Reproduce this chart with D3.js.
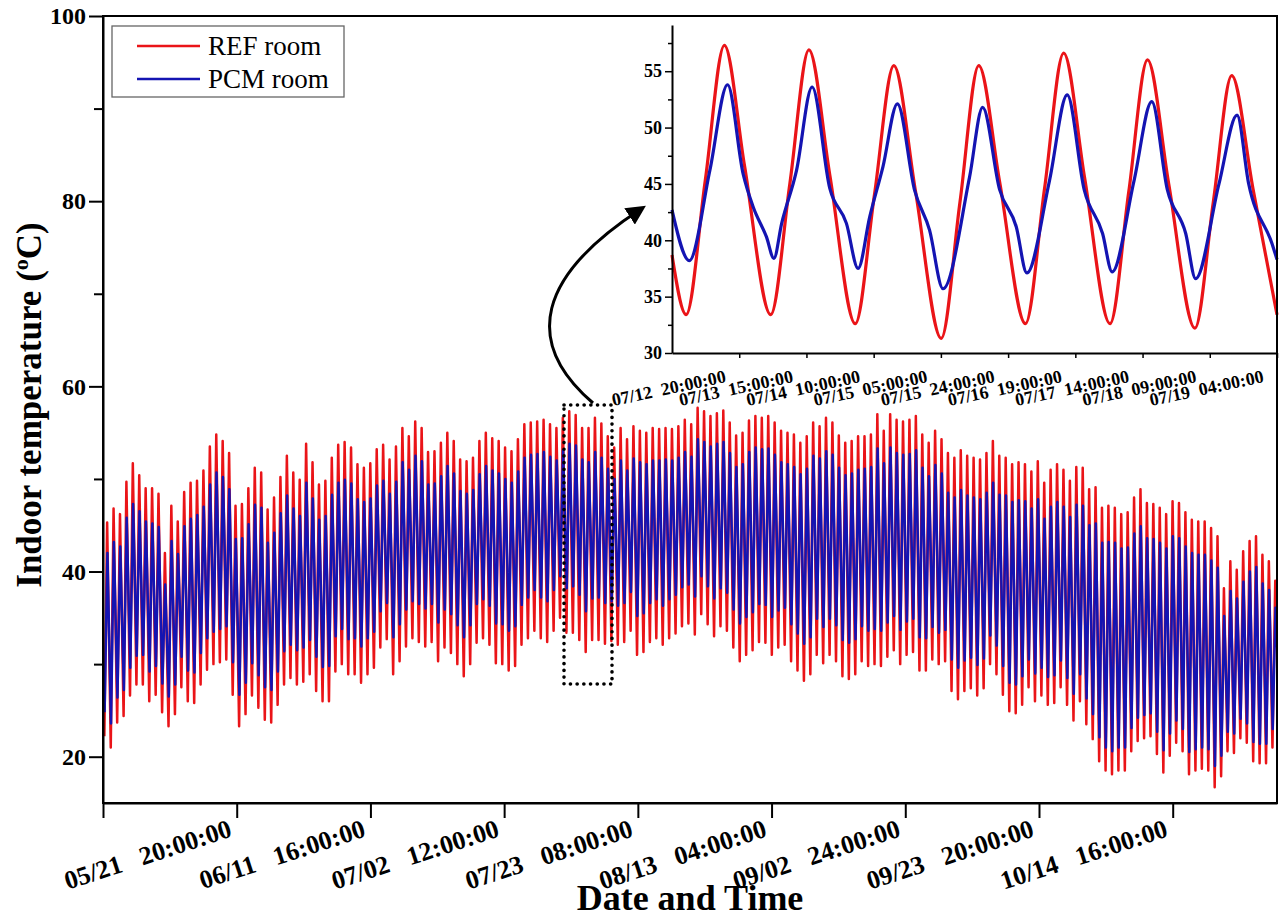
<!DOCTYPE html>
<html>
<head>
<meta charset="utf-8">
<script src="https://cdn.jsdelivr.net/npm/d3@7"></script>
<style>
body { margin: 0; background: #fff; }
text { font-family: "Liberation Serif", "Times New Roman", serif; }
</style>
</head>
<body>
<svg id="chart" width="1282" height="922"></svg>
<script>
// daily extremes, day 0 = 05/01, deg C
const refMax = [45.3,46.8,46.2,49.7,51.7,50.4,49.0,49.0,48.4,42.0,
 47.1,45.4,48.6,49.6,49.8,50.9,53.5,54.8,54.1,52.8,
 47.1,47.3,49.0,51.2,50.7,46.7,48.0,50.2,52.5,50.7,
 49.9,53.8,51.8,49.4,49.8,52.3,53.7,54.0,53.4,51.6,
 51.2,51.7,53.2,53.7,52.1,53.5,
 55.5,54.6,56.2,55.5,52.9,53.0,53.9,55.0,54.1,52.1,
 51.9,52.3,54.1,55.0,54.4,54.1,53.4,53.0,54.3,55.9,
 56.1,56.2,56.4,55.9,55.5,56.6,57.3,56.9,55.5,55.5,
 56.6,56.0,54.6,53.4,55.5,54.3,55.7,55.2,55.0,55.5,
 55.4,55.5,55.4,55.7,56.4,55.9,
 57.7,57.3,56.8,57.1,57.4,56.1,54.7,55.0,56.3,56.8,
 56.6,56.8,56.1,55.2,55.0,54.8,53.9,54.6,56.1,55.7,
 56.6,56.1,54.7,53.9,54.1,54.6,54.6,54.8,57.0,55.2,
 57.0,56.4,56.2,56.4,56.8,54.8,53.9,55.2,54.3,52.8,
 52.3,53.1,52.5,52.3,52.1,52.8,
 54.1,52.5,52.3,51.6,51.8,51.6,50.8,51.9,49.6,51.0,
 51.6,51.0,49.8,51.3,51.2,48.9,49.1,46.9,47.1,46.9,
 46.2,46.4,48.0,48.9,47.4,47.3,46.9,46.2,47.6,47.4,
 46.4,45.6,45.4,45.4,44.7,43.8,38.2,41.1,40.2,42.2,
 43.3,43.8,41.8,41.1,39.0]
const refMin = [22.2,21.0,23.7,24.4,26.6,27.8,27.8,26.0,26.7,24.8,
 23.3,24.6,27.5,26.0,25.8,27.8,29.4,30.0,30.2,30.5,
 26.7,23.3,24.6,26.6,25.3,24.0,23.7,25.6,27.8,28.5,
 27.8,28.1,28.9,27.1,26.0,26.0,29.2,30.0,28.9,28.9,
 28.0,28.9,29.6,31.8,32.7,28.9,
 30.3,31.9,32.8,32.4,31.9,32.4,30.3,31.8,31.2,30.0,
 28.7,30.0,32.3,32.8,32.1,30.1,30.0,29.3,29.8,32.1,
 32.8,33.6,32.8,32.4,33.6,35.0,33.4,33.4,32.6,31.3,
 32.6,32.6,32.2,32.5,32.1,32.4,33.6,31.0,31.3,32.4,
 32.8,32.1,32.8,33.3,34.1,34.4,
 33.2,35.4,34.3,33.0,34.1,33.6,31.8,30.3,31.0,31.5,
 32.4,32.3,31.0,31.8,32.1,30.3,29.3,28.2,28.9,31.0,
 30.1,31.0,30.3,28.7,28.4,28.9,30.3,29.8,30.0,29.8,
 30.8,31.5,30.0,31.0,31.3,29.3,29.3,30.5,30.0,30.3,
 27.1,26.2,27.1,27.4,26.6,27.4,
 30.0,28.9,26.7,24.9,24.7,25.6,27.5,26.0,26.6,25.6,
 25.8,27.5,25.6,23.9,26.0,23.5,21.9,19.5,18.5,18.1,
 18.5,18.5,20.6,21.7,22.0,22.2,20.3,18.3,20.1,21.5,
 20.6,18.1,18.5,18.7,18.5,16.7,17.9,20.6,20.4,22.0,
 21.5,19.5,19.3,19.3,21.0,24.9]
const pcmMax = [42.0,43.2,42.7,45.8,47.3,46.5,45.4,45.2,44.8,38.6,
 43.3,41.9,44.9,45.7,46.1,47.0,49.4,50.7,50.2,48.9,
 43.5,43.6,45.1,47.2,46.9,43.1,44.2,46.3,48.2,46.8,
 46.0,49.6,47.9,45.6,46.0,48.3,49.6,49.9,49.5,47.8,
 47.5,47.9,49.3,49.8,48.4,49.7,
 51.8,51.0,52.5,51.9,49.4,49.5,50.3,51.4,50.6,48.7,
 48.4,48.8,50.5,51.4,50.9,50.6,50.0,49.6,50.8,52.3,
 52.6,52.7,52.9,52.4,52.0,53.1,53.8,53.6,52.1,51.8,
 52.9,52.3,51.1,50.0,52.0,50.9,52.2,51.8,51.6,52.0,
 52.0,52.1,52.0,52.3,52.9,52.4,
 54.3,54.0,53.5,53.8,54.0,52.8,51.3,51.6,52.9,53.4,
 53.2,53.3,52.6,51.8,51.6,51.3,50.5,51.1,52.5,52.2,
 53.0,52.6,51.2,50.4,50.6,51.0,51.1,51.3,53.3,51.7,
 53.4,52.8,52.6,52.7,53.1,51.2,50.3,51.5,50.6,48.5,
 48.0,48.8,48.2,48.0,47.8,48.5,
 49.6,48.3,48.2,47.5,47.7,47.6,46.8,47.8,45.7,47.0,
 47.5,47.0,45.9,47.2,47.1,45.0,45.2,43.1,43.2,43.1,
 42.5,42.6,44.1,44.9,43.6,43.5,43.1,42.5,43.8,43.6,
 42.7,42.0,41.8,41.8,41.2,40.4,35.2,37.9,37.1,38.9,
 40.0,40.5,38.7,38.0,36.1]
const pcmMin = [24.8,23.6,26.4,27.2,29.6,30.9,31.0,29.2,29.8,27.9,
 26.5,27.8,30.8,29.3,29.1,31.2,32.8,33.5,33.8,34.1,
 30.2,26.7,28.0,30.1,28.8,27.5,27.2,29.2,31.4,32.1,
 31.5,31.8,32.6,30.8,29.7,29.8,33.0,33.8,32.7,32.8,
 31.9,32.8,33.5,35.7,36.6,32.9,
 34.3,35.9,36.8,36.5,36.0,36.5,34.5,35.9,35.4,34.2,
 32.9,34.2,36.5,37.0,36.3,34.4,34.3,33.6,34.1,36.4,
 37.2,38.0,37.2,36.8,38.0,39.5,38.2,38.4,37.5,35.7,
 37.1,37.2,36.6,36.8,36.3,36.6,37.8,35.2,35.5,36.6,
 37.0,36.3,37.0,37.5,38.3,38.6,
 37.3,39.5,38.4,37.1,38.2,37.7,35.9,34.4,35.1,35.6,
 36.5,36.4,35.1,35.8,36.1,34.3,33.3,32.2,32.9,34.9,
 34.0,34.9,34.2,32.6,32.3,32.7,34.1,33.6,33.8,33.6,
 34.5,35.2,33.7,34.6,34.9,32.9,32.8,34.0,33.4,33.7,
 30.5,29.6,30.4,30.7,29.9,30.6,
 33.1,32.0,29.8,28.0,27.8,28.7,30.5,29.0,29.6,28.6,
 28.8,30.4,28.5,26.8,28.9,26.3,24.6,22.1,21.0,20.6,
 21.0,21.0,23.1,24.2,24.5,24.7,22.7,20.7,22.5,23.9,
 23.0,20.5,20.8,21.0,20.8,19.0,20.1,22.7,22.5,24.1,
 23.6,21.6,21.4,21.4,23.0,26.8]

// main axes
const yTicks = [20, 40, 60, 80, 100]
const yMinorTicks = [30, 50, 70, 90]
const xTickHours = [0, 500, 1000, 1500, 2000, 2500, 3000, 3500, 4000]
const xTickLabels = ["", "05/21   20:00:00", "06/11   16:00:00", "07/02   12:00:00", "07/23   08:00:00",
  "08/13   04:00:00", "09/02   24:00:00", "09/23   20:00:00", "10/14   16:00:00"]

// inset: hours after 07/12 01:00
const insetRefHours = [0, 4.0, 9.4, 14.8, 20.5, 27.9, 33.3, 38.7, 44.6, 51.8, 57.2, 62.7, 68.8, 76.1, 81.4, 86.7,
  92.6, 99.9, 105.3, 110.7, 116.6, 123.8, 129.1, 134.4, 140.4, 147.8, 153.0, 158.2, 164.2, 171]
const insetRefTemp = [38.7, 33.4, 45.3, 57.3, 46.6, 33.4, 45.0, 56.9, 45.8, 32.6, 44.0, 55.5, 44.4, 31.3, 43.4, 55.5,
  45.2, 32.6, 44.6, 56.6, 45.6, 32.6, 44.3, 56.0, 45.0, 32.2, 43.4, 54.6, 44.6, 33.4]
const insetPcmHours = [0, 4.9, 10.7, 15.7, 20.1, 22.9, 26.7, 28.8, 31.0, 35.2, 39.6, 44.6, 49.3, 52.6, 55.9, 59.6,
  63.7, 68.6, 72.8, 76.6, 84.1, 87.8, 92.6, 97.3, 100.3, 106.7, 111.7, 116.5, 121.7, 124.4, 130.6, 135.6,
  140.0, 145.2, 148.0, 154.6, 159.7, 163.0, 169.6, 171]
const insetPcmTemp = [42.7, 38.2, 46.2, 53.8, 45.9, 43.0, 40.3, 38.4, 41.5, 46.2, 53.6, 44.6, 41.5, 37.5, 42.1, 46.5,
  52.1, 44.4, 40.9, 35.7, 45.6, 51.8, 44.5, 41.2, 37.1, 45.3, 52.9, 44.5, 40.6, 37.2, 45.3, 52.3,
  44.5, 40.6, 36.6, 45.0, 51.1, 45.0, 39.7, 38.3]
const insetXTicks = [19, 38, 57, 76, 95, 114, 133, 152, 171]
const insetXLabels = ["07/12  20:00:00", "07/13  15:00:00", "07/14  10:00:00", "07/15  05:00:00", "07/15  24:00:00",
  "07/16  19:00:00", "07/17  14:00:00", "07/18  09:00:00", "07/19  04:00:00"]
const insetYTicks = [30, 35, 40, 45, 50, 55]
const insetYMinor = [32.5, 37.5, 42.5, 47.5, 52.5, 57.5]

const RED = "#ea1418"
const BLUE = "#1414b2"

const svg = d3.select('#chart')

// scales
let x = d3.scaleLinear().domain([0, 4390]).range([103, 1277])
let y = d3.scaleLinear().domain([15, 100]).range([803, 16])

svg.append('defs').append('clipPath').attr('id', 'plotClip')
    .append('rect').attr('x', 103).attr('y', 16).attr('width', 1174).attr('height', 787)

// build the daily zigzag: morning minimum, afternoon maximum
function dailyPoints(mins, maxs, tMin, tMax) {
    let pts = []
    mins.forEach((v, d) => {
        pts.push([d * 24 + tMin, v])
        if (d < maxs.length) pts.push([d * 24 + tMax, maxs[d]])
    })
    return pts
}
let refPts = dailyPoints(refMin, refMax, 5, 15.5)
let pcmPts = dailyPoints(pcmMin, pcmMax, 6, 16.5)

let line = d3.line().x(d => x(d[0])).y(d => y(d[1]))

let plot = svg.append('g').attr('clip-path', 'url(#plotClip)')
plot.append('path').attr('d', line(refPts))
    .attr('fill', 'none').attr('stroke', RED).attr('stroke-width', 2.5).attr('stroke-linejoin', 'round')
plot.append('path').attr('d', line(pcmPts))
    .attr('fill', 'none').attr('stroke', BLUE).attr('stroke-width', 2.5).attr('stroke-linejoin', 'round')

// frame
svg.append('rect').attr('x', 103).attr('y', 16).attr('width', 1174).attr('height', 787)
    .attr('fill', 'none').attr('stroke', '#000').attr('stroke-width', 2)

// y axis
let yAxis = svg.append('g').attr('transform', 'translate(103,0)')
    .call(d3.axisLeft(y).tickValues(yTicks).tickSize(14).tickSizeOuter(0).tickPadding(3))
yAxis.select('.domain').attr('stroke-width', 2)
yAxis.selectAll('.tick line').attr('stroke-width', 2)
yAxis.selectAll('.tick text').attr('font-size', 24).attr('font-weight', 'bold')
    .attr('font-family', '"Liberation Serif", serif').attr('fill', '#000')
let yMinor = svg.append('g').attr('transform', 'translate(103,0)')
    .call(d3.axisLeft(y).tickValues(yMinorTicks).tickSize(9).tickSizeOuter(0).tickFormat(''))
yMinor.select('.domain').remove()
yMinor.selectAll('.tick line').attr('stroke-width', 2)

// x axis
let xAxis = svg.append('g').attr('transform', 'translate(0,803)')
    .call(d3.axisBottom(x).tickValues(xTickHours).tickSize(15).tickSizeOuter(0).tickFormat((d, i) => xTickLabels[i]))
xAxis.select('.domain').attr('stroke-width', 2)
xAxis.selectAll('.tick line').attr('stroke-width', 2)
xAxis.selectAll('.tick text')
    .attr('x', 0).attr('y', 0).attr('dy', 0)
    .attr('transform', 'translate(-4,33) rotate(-18)')
    .style('text-anchor', 'end').style('white-space', 'pre')
    .attr('font-size', 26).attr('font-weight', 'bold')
    .attr('font-family', '"Liberation Serif", serif').attr('fill', '#000')

// axis titles
svg.append('text').attr('x', 690).attr('y', 910).attr('text-anchor', 'middle')
    .attr('font-size', 36).attr('font-weight', 'bold').text('Date and Time')
let yTitle = svg.append('text').attr('transform', 'translate(41,405) rotate(-90)')
    .attr('text-anchor', 'middle').attr('font-size', 35).attr('font-weight', 'bold')
yTitle.append('tspan').text('Indoor temperature (')
yTitle.append('tspan').attr('dy', -13).attr('font-size', 22).text('o')
yTitle.append('tspan').attr('dy', 13).text('C)')

// legend
let legend = svg.append('g')
legend.append('rect').attr('x', 112).attr('y', 26).attr('width', 232).attr('height', 71)
    .attr('fill', '#fff').attr('stroke', '#666').attr('stroke-width', 1.3)
const legendItems = [["REF room", RED], ["PCM room", BLUE]]
legendItems.forEach((d, i) => {
    let ly = 46 + i * 33
    legend.append('line').attr('x1', 137).attr('x2', 200).attr('y1', ly).attr('y2', ly)
        .attr('stroke', d[1]).attr('stroke-width', 2.5)
    legend.append('text').attr('x', 208).attr('y', ly + 9).attr('font-size', 27).text(d[0])
})

// dotted box marking the zoomed week
svg.append('rect').attr('x', 564).attr('y', 405).attr('width', 48).attr('height', 279)
    .attr('fill', 'none').attr('stroke', '#000').attr('stroke-width', 3.6)
    .attr('stroke-dasharray', '0.1 6.6').attr('stroke-linecap', 'round')

// curved arrow up to the inset
svg.select('defs').append('marker').attr('id', 'arrowHead')
    .attr('viewBox', '0 0 10 10').attr('refX', 7).attr('refY', 5)
    .attr('markerWidth', 6.5).attr('markerHeight', 6.5).attr('orient', 'auto')
    .append('path').attr('d', 'M0,0 L10,5 L0,10 z').attr('fill', '#000')
svg.append('path').attr('d', 'M593,403 C522,342 538,276 641,209')
    .attr('fill', 'none').attr('stroke', '#000').attr('stroke-width', 3)
    .attr('marker-end', 'url(#arrowHead)')

// inset
let ix = d3.scaleLinear().domain([0, 171]).range([672, 1277])
let iy = d3.scaleLinear().domain([30, 59.1]).range([353, 25])
let inset = svg.append('g')

let curve = d3.line().curve(d3.curveMonotoneX).x(d => ix(d[0])).y(d => iy(d[1]))
inset.append('path').attr('d', curve(insetRefHours.map((h, i) => [h, insetRefTemp[i]])))
    .attr('fill', 'none').attr('stroke', RED).attr('stroke-width', 3.2)
inset.append('path').attr('d', curve(insetPcmHours.map((h, i) => [h, insetPcmTemp[i]])))
    .attr('fill', 'none').attr('stroke', BLUE).attr('stroke-width', 3.2)

let iyAxis = inset.append('g').attr('transform', 'translate(672,0)')
    .call(d3.axisLeft(iy).tickValues(insetYTicks).tickSize(7).tickSizeOuter(0).tickPadding(3))
iyAxis.select('.domain').attr('stroke-width', 2)
iyAxis.selectAll('.tick line').attr('stroke-width', 1.5)
iyAxis.selectAll('.tick text').attr('font-size', 18).attr('font-weight', 'bold')
    .attr('font-family', '"Liberation Serif", serif').attr('fill', '#000')
let iyMinor = inset.append('g').attr('transform', 'translate(672,0)')
    .call(d3.axisLeft(iy).tickValues(insetYMinor).tickSize(4).tickSizeOuter(0).tickFormat(''))
iyMinor.select('.domain').remove()
iyMinor.selectAll('.tick line').attr('stroke-width', 1.5)

let ixAxis = inset.append('g').attr('transform', 'translate(0,353)')
    .call(d3.axisBottom(ix).tickValues(insetXTicks).tickSize(5).tickSizeOuter(0).tickFormat((d, i) => insetXLabels[i]))
ixAxis.select('.domain').attr('stroke-width', 2)
ixAxis.selectAll('.tick line').attr('stroke-width', 1.5)
ixAxis.selectAll('.tick text')
    .attr('x', 0).attr('y', 0).attr('dy', 0)
    .attr('transform', 'translate(-13,29) rotate(-12)')
    .style('text-anchor', 'end').style('white-space', 'pre')
    .attr('font-size', 18).attr('font-weight', 'bold')
    .attr('font-family', '"Liberation Serif", serif').attr('fill', '#000')
inset.append('line').attr('x1', 1277).attr('x2', 1277).attr('y1', 16).attr('y2', 353)
    .attr('stroke', '#000').attr('stroke-width', 2)
</script>
</body>
</html>
